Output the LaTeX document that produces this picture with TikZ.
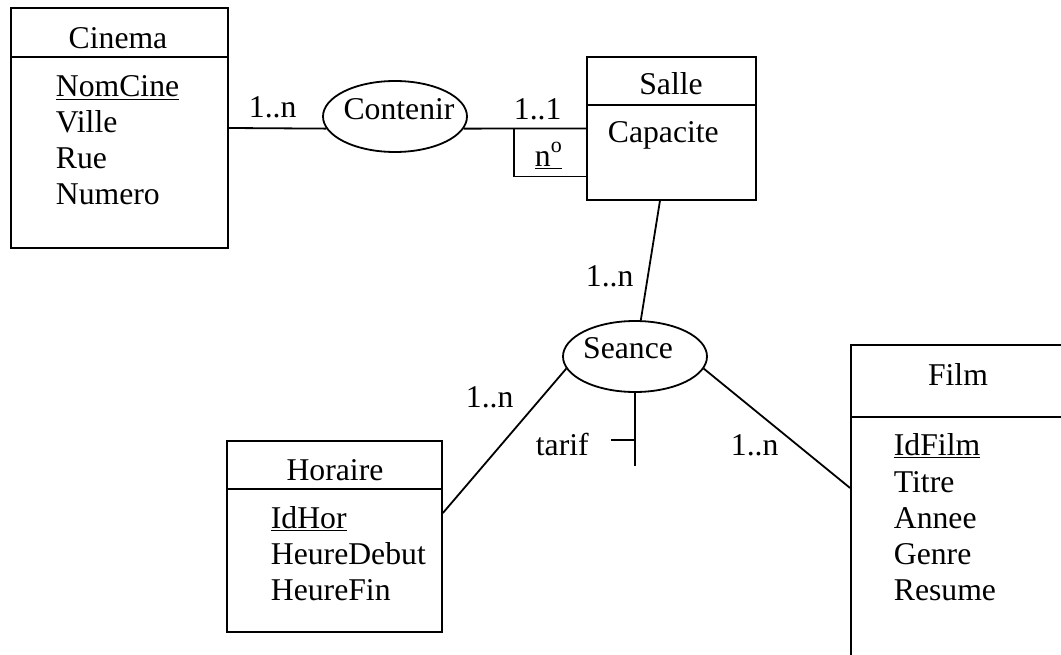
\documentclass[tikz,border=0pt]{standalone}
\usepackage{fontspec}
\setmainfont{Liberation Serif}
\usetikzlibrary{positioning, calc, shapes, fit}

\tikzset{
  entite/.style={draw, rectangle, inner sep=0pt},
  assoc/.style={draw, ellipse, inner sep=0pt},
  titre/.style={anchor=base, inner sep=0pt},
  attr/.style={anchor=base west, inner sep=0pt},
}

\begin{document}
\begin{tikzpicture}[x=1pt, y=-1pt, line width=1.8pt, font=\fontsize{31.7}{36}\selectfont]
    \clip (0,0) rectangle (1061,655);

    % entites
    \node[entite, fit={(11,8) (228,248)}] (cinema) {};
    \draw (cinema.west |- 0,57) -- (cinema.east |- 0,57);
    \node[titre] (tcinema) at (118,49) {Cinema};
    \node[attr] (nomcine) at (55,97) {\underline{NomCine}};
    \node[attr] (ville) at (55,133) {Ville};
    \node[attr] (rue) at (55,169) {Rue};
    \node[attr] (numero) at (55,205) {Numero};

    \node[entite, fit={(587,57) (756,200)}] (salle) {};
    \draw (salle.west |- 0,105) -- (salle.east |- 0,105);
    \node[titre] (tsalle) at (671,95) {Salle};
    \node[attr] (capacite) at (607,143) {Capacite};

    \node[entite, fit={(227,441) (442,632)}] (horaire) {};
    \draw (horaire.west |- 0,489) -- (horaire.east |- 0,489);
    \node[titre] (thoraire) at (335,480) {Horaire};
    \node[attr] (idhor) at (270,528) {\underline{IdHor}};
    \node[attr] (heuredebut) at (270,564) {HeureDebut};
    \node[attr] (heurefin) at (270,600) {HeureFin};

    \node[entite, fit={(851,345) (1075,690)}] (film) {};
    \draw (film.west |- 0,417) -- (film.east |- 0,417);
    \node[titre] (tfilm) at (958,385) {Film};
    \node[attr] (idfilm) at (893,455) {\underline{IdFilm}};
    \node[attr] (titrefilm) at (893,492) {Titre};
    \node[attr] (annee) at (893,528) {Annee};
    \node[attr] (genre) at (893,564) {Genre};
    \node[attr] (resume) at (893,600) {Resume};

    % associations
    \node[assoc, minimum width=144pt, minimum height=71pt] (contenir) at (395,116.5) {};
    \node[titre] (tcontenir) at (399,120) {Contenir};
    \node[assoc, minimum width=144pt, minimum height=71pt] (seance) at (635,356.5) {};
    \node[titre] (tseance) at (628,358) {Seance};

    % liens
    \draw (cinema.east) -- (contenir.190);
    \draw (contenir.-10) -- (salle.west);
    \draw ($(salle.west)+(-72,0)$) -- ++(0,48) -- ($(salle.west)+(0,48)$);
    \draw (salle) -- (seance);
    \draw (seance.190) -- ($(horaire.east)+(0,-23.5)$);
    \draw (seance.-10) -- ($(film.west)+(0,-29.5)$);

    % attribut porte par seance
    \coordinate (tarifbas) at ($(seance.south)+(0,73)$);
    \draw (seance.south) -- (tarifbas);
    \draw ($(seance.south)+(0,47)$) -- ++(-24,0);
    \node[attr] (tarif) at (535,455) {tarif};
    \node[attr] (numsalle) at (534,167) {\underline{n\raisebox{14pt}{\fontsize{22}{22}\selectfont o}}};

    % cardinalites
    \node[attr] (c1) at (248,118) {1..n};
    \node[attr] (c2) at (513,120) {1..1};
    \node[attr] (c3) at (585,287) {1..n};
    \node[attr] (c4) at (465,407) {1..n};
    \node[attr] (c5) at (730,455) {1..n};
\end{tikzpicture}
\end{document}
